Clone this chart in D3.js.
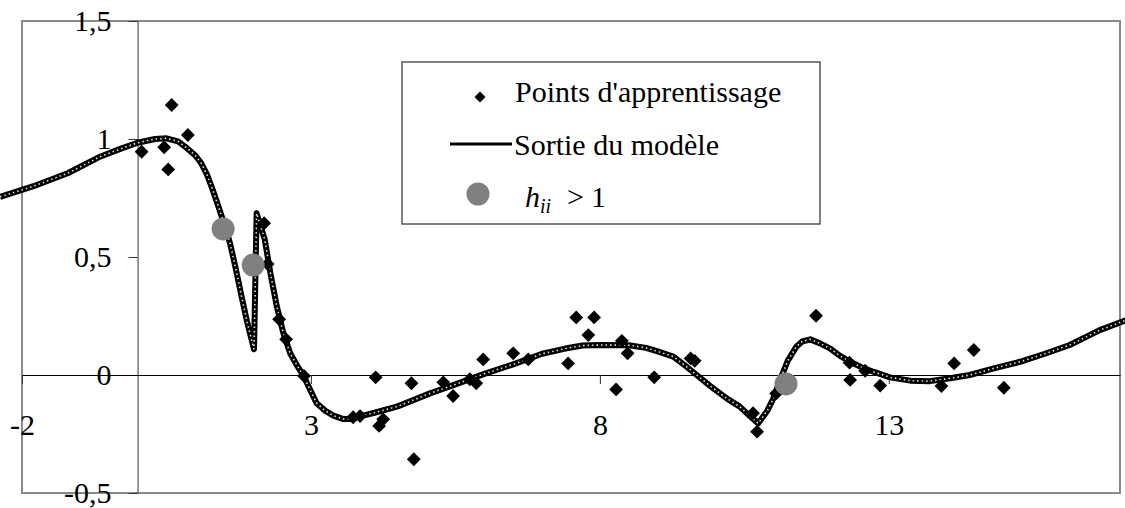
<!DOCTYPE html>
<html>
<head>
<meta charset="utf-8">
<script src="https://cdn.jsdelivr.net/npm/d3@7"></script>
<style>
  body { margin: 0; background: #fff; }
</style>
</head>
<body>
<div id="chart"></div>
<script>
// Training points (x, y)
const pointsX = [0.07, 0.46, 0.53, 0.59, 0.87, 2.19, 2.25, 2.45, 2.57, 2.88,
                 3.73, 3.85, 4.12, 4.18, 4.25, 4.74, 4.78, 5.29, 5.46, 5.75, 5.86, 5.98, 6.50, 6.76,
                 7.45, 7.59, 7.80, 7.90, 8.28, 8.38, 8.48, 8.94, 9.57, 9.64,
                 10.65, 10.72, 11.05, 11.74, 12.32, 12.33, 12.59, 12.85,
                 13.91, 14.13, 14.47, 14.99];
const pointsY = [0.946, 0.965, 0.871, 1.144, 1.017, 0.643, 0.470, 0.236, 0.151, -0.004,
                 -0.179, -0.174, -0.010, -0.216, -0.188, -0.035, -0.357, -0.031, -0.089, -0.018, -0.035, 0.066, 0.092, 0.066,
                 0.049, 0.244, 0.169, 0.244, -0.061, 0.145, 0.092, -0.010, 0.070, 0.060,
                 -0.162, -0.240, -0.078, 0.251, 0.052, -0.021, 0.018, -0.045,
                 -0.047, 0.049, 0.106, -0.054];

// Model output curve
const modelX = [-2.38, -1.8, -1.2, -0.65, -0.3, 0.0, 0.3, 0.5, 0.7, 0.85, 1.0, 1.1, 1.2, 1.3, 1.4, 1.5, 1.6, 1.7, 1.8, 1.9,
                2.015, 2.06, 2.2, 2.3, 2.41, 2.52, 2.64, 2.76, 2.88, 3.0, 3.1, 3.25, 3.39, 3.55, 3.7, 3.85, 4.1, 4.5,
                5.06, 5.5, 6.0, 6.5, 7.0, 7.4, 7.7, 8.0, 8.5, 8.8, 9.0, 9.27, 9.5, 9.675, 9.9, 10.2, 10.42, 10.6, 10.74,
                10.9, 11.0, 11.12, 11.25, 11.4, 11.5, 11.64, 11.8, 11.98, 12.15, 12.33, 12.55, 12.73, 13.02, 13.37,
                13.71, 14.06, 14.4, 14.8, 15.27, 15.7, 16.13, 16.65, 17.1];
const modelY = [0.755, 0.80, 0.856, 0.925, 0.958, 0.984, 1.0, 1.003, 0.99, 0.962, 0.93, 0.898, 0.85, 0.785, 0.713, 0.64, 0.558, 0.45, 0.332, 0.22,
                0.109, 0.685, 0.575, 0.43, 0.29, 0.18, 0.092, 0.04, -0.007, -0.07, -0.12, -0.152, -0.172, -0.186, -0.186, -0.175, -0.16, -0.133,
                -0.078, -0.04, 0.005, 0.045, 0.09, 0.112, 0.125, 0.127, 0.126, 0.115, 0.1, 0.078, 0.035, 0.0, -0.045, -0.1, -0.134, -0.175, -0.205,
                -0.15, -0.1, -0.02, 0.06, 0.12, 0.142, 0.151, 0.135, 0.113, 0.082, 0.056, 0.03, 0.014, -0.01, -0.024,
                -0.026, -0.014, 0.0, 0.027, 0.056, 0.09, 0.127, 0.19, 0.232];

// Points with h_ii > 1
const leverX = [1.48, 2.00, 11.22];
const leverY = [0.619, 0.466, -0.038];

// Ticks
const xTicks = [-2, 3, 8, 13];
const xTickLabels = ["-2", "3", "8", "13"];
const yTicks = [-0.5, 0, 0.5, 1, 1.5];
const yTickLabels = ["-0,5", "0", "0,5", "1", "1,5"];

const legendLabels = ["Points d'apprentissage", "Sortie du modèle"];

const serif = '"Liberation Serif", "Times New Roman", serif';
const width = 1125, height = 508;
const svg = d3.select("#chart").append("svg")
              .attr("width", width)
              .attr("height", height);

const x = d3.scaleLinear().domain([-2, 17]).range([22, 1120]);
const y = d3.scaleLinear().domain([-0.5, 1.5]).range([493, 21]);

// Plot frame
svg.append("rect")
   .attr("x", x(-2)).attr("y", y(1.5))
   .attr("width", x(17) - x(-2)).attr("height", y(-0.5) - y(1.5))
   .attr("fill", "none")
   .attr("stroke", "#8a8a8a")
   .attr("stroke-width", 2);

// Y axis at x = 0
const yAxis = svg.append("g")
   .attr("transform", `translate(${x(0)},0)`)
   .call(d3.axisLeft(y)
           .tickValues(yTicks)
           .tickSize(9)
           .tickSizeOuter(0)
           .tickPadding(17)
           .tickFormat((d, i) => yTickLabels[i]));
yAxis.select(".domain").attr("stroke", "#555").attr("stroke-width", 1.2);
yAxis.selectAll(".tick line").attr("stroke", "#333");
yAxis.selectAll("text")
     .attr("dy", "0.33em")
     .style("font-family", serif)
     .style("font-size", "30px");

// X axis at y = 0
const xAxis = svg.append("g")
   .attr("transform", `translate(0,${y(0)})`)
   .call(d3.axisBottom(x)
           .tickValues(xTicks)
           .tickSize(9)
           .tickSizeOuter(0)
           .tickPadding(30)
           .tickFormat((d, i) => xTickLabels[i]));
xAxis.select(".domain").attr("stroke", "#000").attr("stroke-width", 1);
xAxis.selectAll(".tick line").attr("stroke", "#333");
xAxis.selectAll("text")
     .style("font-family", serif)
     .style("font-size", "30px");

// Model curve: thick black with light dotted core
const modelData = modelX.map((d, i) => [d, modelY[i]]);
const line = d3.line().x(d => x(d[0])).y(d => y(d[1]));

svg.append("path")
   .datum(modelData)
   .attr("d", line)
   .attr("fill", "none")
   .attr("stroke", "#000")
   .attr("stroke-width", 6)
   .attr("stroke-linejoin", "round");

svg.append("path")
   .datum(modelData)
   .attr("d", line)
   .attr("fill", "none")
   .attr("stroke", "#e0e0e0")
   .attr("stroke-width", 1.6)
   .attr("stroke-dasharray", "1.5 3");

// Training points as diamonds
const diamond = d3.symbol().type(d3.symbolSquare).size(95);
svg.append("g")
   .selectAll("path")
   .data(pointsX.map((d, i) => [d, pointsY[i]]))
   .join("path")
   .attr("d", diamond)
   .attr("transform", d => `translate(${x(d[0])},${y(d[1])}) rotate(45)`)
   .attr("fill", "#000");

// Leverage points
svg.append("g")
   .selectAll("circle")
   .data(leverX.map((d, i) => [d, leverY[i]]))
   .join("circle")
   .attr("cx", d => x(d[0]))
   .attr("cy", d => y(d[1]))
   .attr("r", 11.5)
   .attr("fill", "#808080");

// Legend
const legend = svg.append("g");
legend.append("rect")
      .attr("x", 402).attr("y", 62)
      .attr("width", 418).attr("height", 162)
      .attr("fill", "#fff")
      .attr("stroke", "#555")
      .attr("stroke-width", 1.5);

legend.append("path")
      .attr("d", d3.symbol().type(d3.symbolSquare).size(60))
      .attr("transform", "translate(480,97) rotate(45)")
      .attr("fill", "#000");
legend.append("text")
      .attr("x", 515).attr("y", 102)
      .style("font-family", serif).style("font-size", "30px")
      .text(legendLabels[0]);

legend.append("line")
      .attr("x1", 450).attr("x2", 512)
      .attr("y1", 144).attr("y2", 144)
      .attr("stroke", "#000")
      .attr("stroke-width", 3);
legend.append("text")
      .attr("x", 514).attr("y", 155)
      .style("font-family", serif).style("font-size", "30px")
      .text(legendLabels[1]);

legend.append("circle")
      .attr("cx", 478).attr("cy", 194)
      .attr("r", 11.5)
      .attr("fill", "#808080");
const hText = legend.append("text")
      .attr("x", 525).attr("y", 207)
      .style("font-family", serif).style("font-size", "30px");
hText.append("tspan").style("font-style", "italic").text("h");
hText.append("tspan").style("font-style", "italic").style("font-size", "20px").attr("dy", 6).text("ii");
hText.append("tspan").attr("x", 567).attr("dy", -6).text(">");
hText.append("tspan").attr("x", 591).text("1");
</script>
</body>
</html>
